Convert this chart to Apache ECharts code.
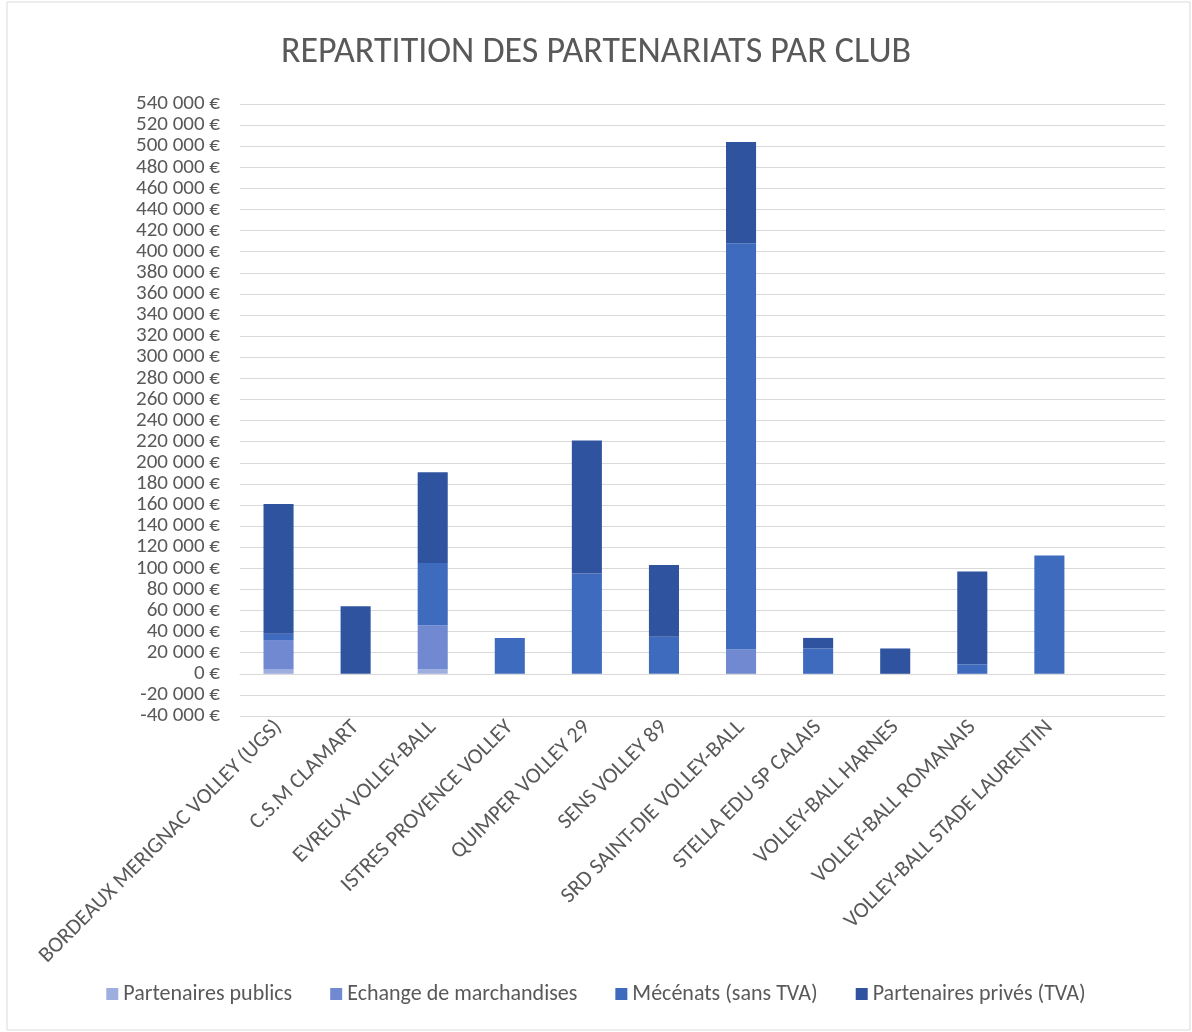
<!DOCTYPE html>
<html>
<head>
<meta charset="utf-8">
<script src="https://cdn.jsdelivr.net/npm/echarts@6/dist/echarts.min.js"></script>
<style>
html, body { margin: 0; padding: 0; background: #fff; }
#main { width: 1192px; height: 1032px; }
</style>
</head>
<body>
<div id="main"></div>
<script>
var clubs = ['BORDEAUX MERIGNAC VOLLEY (UGS)', 'C.S.M CLAMART', 'EVREUX VOLLEY-BALL', 'ISTRES PROVENCE VOLLEY',
	'QUIMPER VOLLEY 29', 'SENS VOLLEY 89', 'SRD SAINT-DIE VOLLEY-BALL', 'STELLA EDU SP CALAIS',
	'VOLLEY-BALL HARNES', 'VOLLEY-BALL ROMANAIS', 'VOLLEY-BALL STADE LAURENTIN', ''];
var publics = [4000, 0, 4000, 0, 0, 0, 0, 0, 0, 0, 0];
var echange = [28000, 0, 42000, 0, 0, 0, 23000, 0, 0, 0, 0];
var mecenats = [6000, 0, 59000, 34000, 95000, 35000, 385000, 24000, 0, 9000, 112000];
var prives = [123000, 64000, 86000, 0, 126000, 68000, 96000, 10000, 24000, 88000, 0];

var police = "'Carlito', 'Open Sans', sans-serif";
var gris = '#595959';

function euros(v) {
	var s = Math.abs(v).toString().replace(/\B(?=(\d{3})+(?!\d))/g, ' ');
	return (v < 0 ? '-' : '') + s + ' €';
}

var chart = echarts.init(document.getElementById('main'));
var option = {
	backgroundColor: '#fff',
	textStyle: { fontFamily: police },
	title: {
		text: 'REPARTITION DES PARTENARIATS PAR CLUB',
		left: 'center',
		top: 30,
		textStyle: { fontSize: 36, fontWeight: 'normal', color: gris, fontFamily: police }
	},
	graphic: [{
		type: 'rect',
		shape: { x: 7, y: 2, width: 1183, height: 1028 },
		style: { fill: 'none', stroke: '#d9d9d9', lineWidth: 1 }
	}],
	legend: {
		bottom: 22,
		left: 'center',
		icon: 'rect',
		itemWidth: 12,
		itemHeight: 12,
		itemGap: 38,
		textStyle: { fontSize: 22, color: gris, fontFamily: police }
	},
	grid: { left: 240, right: 27, top: 104, bottom: 316 },
	xAxis: {
		type: 'category',
		data: clubs,
		axisTick: { show: false },
		axisLine: { onZero: true, lineStyle: { color: '#d9d9d9' } },
		axisLabel: { rotate: 45, interval: 0, margin: 8, fontSize: 22, color: gris, fontFamily: police }
	},
	yAxis: {
		type: 'value',
		min: -40000,
		max: 540000,
		interval: 20000,
		axisLine: { show: false },
		axisTick: { show: false },
		splitLine: { lineStyle: { color: '#d9d9d9' } },
		axisLabel: { fontSize: 21, color: gris, margin: 20, fontFamily: police, formatter: euros }
	},
	series: [
		{ name: 'Partenaires publics', type: 'bar', stack: 'total', barCategoryGap: '61%', data: publics, itemStyle: { color: '#9EAEDF' } },
		{ name: 'Echange de marchandises', type: 'bar', stack: 'total', data: echange, itemStyle: { color: '#7089D0' } },
		{ name: 'Mécénats (sans TVA)', type: 'bar', stack: 'total', data: mecenats, itemStyle: { color: '#3E6BBE' } },
		{ name: 'Partenaires privés (TVA)', type: 'bar', stack: 'total', data: prives, itemStyle: { color: '#3053A0' } }
	]
};
chart.setOption(option);
</script>
</body>
</html>
